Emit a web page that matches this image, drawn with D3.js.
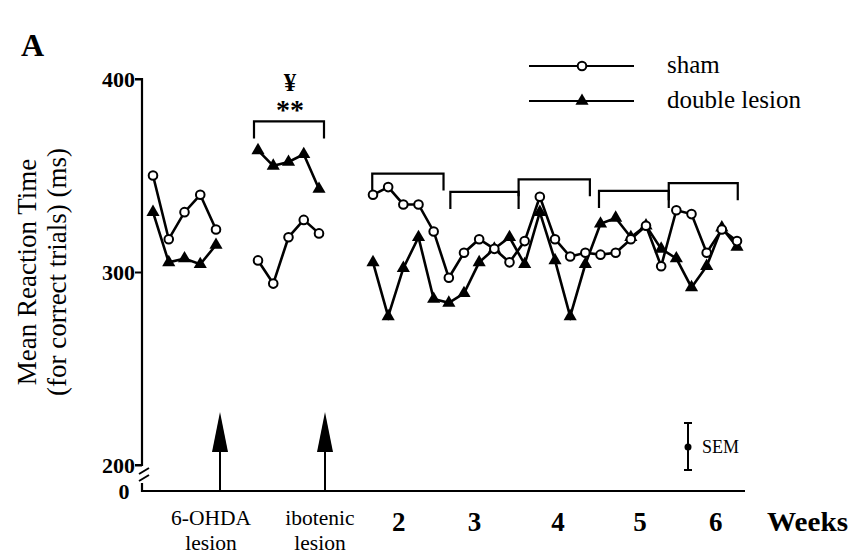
<!DOCTYPE html>
<html><head><meta charset="utf-8">
<script src="https://cdn.jsdelivr.net/npm/d3@7"></script>
<style>body{margin:0;background:#fff}svg{display:block}text{font-family:"Liberation Serif","Times New Roman",serif;fill:#000}</style>
</head><body><svg id="c" width="850" height="556"></svg>
<script>
// ---- data ----
const baseSessions = [1,2,3,4,5];
const baseSham   = [350, 317, 331, 340, 322];
const baseDouble = [331, 305, 307, 304, 314];
const lesSessions = [1,2,3,4,5];
const lesSham   = [306, 294, 318, 327, 320];
const lesDouble = [363, 355, 357, 361, 343];
const weekSessions = d3.range(1, 26);
const weekSham   = [340,344,335,335,321,297,310,317,312,305,316,339,317,308,310,309,310,317,324,303,332,330,310,322,316];
const weekDouble = [305,277,302,318,286,284,289,305,312,318,304,331,306,277,304,325,328,318,324,312,307,292,303,323,313];
const weekLabels = ["2","3","4","5","6"];
const lesionLabels = [["6-OHDA","lesion"],["ibotenic","lesion"]];
const yTicks = [200, 300, 400];
const seriesNames = ["sham", "double lesion"];
const weekBracketTop = [351, 341.5, 348, 342, 346];
const lesBracketTop = 378;

// ---- layout ----
const svg = d3.select("#c");
const y = d3.scaleLinear().domain([200, 400]).range([465, 79]);
const xBase = d3.scaleLinear().domain([1,5]).range([153, 216]);
const xLes  = d3.scaleLinear().domain([1,5]).range([258, 319]);
const xWeek = d3.scaleLinear().domain([1,25]).range([373, 737]);
const axisX = 142, zeroY = 491;

// y axis
const yAxis = d3.axisLeft(y).tickValues(yTicks).tickSize(7).tickFormat(d3.format("d"));
const ga = svg.append("g").attr("transform", `translate(${axisX},0)`).call(yAxis);
ga.select(".domain").attr("d", `M-7,${y(400)}H0V${y(200)}H-7`).attr("stroke","#000").attr("stroke-width",2.2);
ga.selectAll(".tick line").attr("stroke","#000").attr("stroke-width",2);
ga.selectAll(".tick text").attr("font-size", 22).attr("font-weight","bold").attr("x",-7)
  .style("font-family","'Liberation Serif',serif");
// break marks & lower axis
svg.append("path").attr("d", `M${axisX-3},${474}L${axisX+7},${468}M${axisX-3},${481}L${axisX+7},${475}`)
  .attr("stroke","#000").attr("stroke-width",2).attr("fill","none");
svg.append("path").attr("d", `M${axisX},${483}V${zeroY}H745`).attr("stroke","#000").attr("stroke-width",2.2).attr("fill","none");
svg.append("text").attr("x", 124).attr("y", zeroY+8).attr("text-anchor","middle")
  .attr("font-size",22).attr("font-weight","bold").text("0");

// y label
const yl = svg.append("text").attr("transform","translate(36,272) rotate(-90)").attr("text-anchor","middle").attr("font-size",27);
yl.append("tspan").attr("x",0).attr("dy",0).text("Mean Reaction Time");
yl.append("tspan").attr("x",0).attr("dy",30).text("(for correct trials) (ms)");

// panel letter
svg.append("text").attr("x",21).attr("y",56).attr("font-size",32).attr("font-weight","bold").text("A");

// series drawing
const line = (xs) => d3.line().x((d,i)=>xs[i]).y(d=>y(d));
function drawSeries(xScale, sessions, vals, type){
  const xs = sessions.map(s=>xScale(s));
  svg.append("path").attr("d", line(xs)(vals)).attr("fill","none").attr("stroke","#000").attr("stroke-width",2.6);
  if(type==="circle"){
    svg.append("g").selectAll("circle").data(vals).join("circle")
      .attr("cx",(d,i)=>xs[i]).attr("cy",d=>y(d)).attr("r",4.3)
      .attr("fill","#fff").attr("stroke","#000").attr("stroke-width",2);
  } else {
    svg.append("g").selectAll("path").data(vals).join("path")
      .attr("d", d3.symbol(d3.symbolTriangle, 75)())
      .attr("transform",(d,i)=>`translate(${xs[i]},${y(d)})`).attr("fill","#000");
  }
}
drawSeries(xBase, baseSessions, baseDouble, "tri");
drawSeries(xBase, baseSessions, baseSham, "circle");
drawSeries(xLes, lesSessions, lesDouble, "tri");
drawSeries(xLes, lesSessions, lesSham, "circle");
drawSeries(xWeek, weekSessions, weekDouble, "tri");
drawSeries(xWeek, weekSessions, weekSham, "circle");

// brackets
function bracket(x1, x2, v){
  const yt = y(v);
  svg.append("path").attr("d", `M${x1},${yt+17}V${yt}H${x2}V${yt+17}`)
    .attr("fill","none").attr("stroke","#000").attr("stroke-width",2.2);
}
bracket(254, 324, lesBracketTop);
const bracketSpans = [[0.95,5.65],[6.1,10.6],[10.6,15.3],[15.9,20.5],[20.5,25.05]];
bracketSpans.forEach((s,i)=>bracket(xWeek(s[0]), xWeek(s[1]), weekBracketTop[i]));

// significance marks
svg.append("text").attr("x",290).attr("y",119).attr("text-anchor","middle").attr("font-size",28).attr("font-weight","bold").text("**");
svg.append("text").attr("x",290).attr("y",91).attr("text-anchor","middle").attr("font-size",25).attr("font-weight","bold").text("¥");

// arrows
[220, 325].forEach(ax=>{
  svg.append("line").attr("x1",ax).attr("x2",ax).attr("y1",zeroY).attr("y2",440).attr("stroke","#000").attr("stroke-width",2);
  svg.append("path").attr("d",`M${ax},412L${ax+8},452L${ax-8},452Z`).attr("fill","#000");
});

// x labels
lesionLabels.forEach((l,i)=>{
  const cx = [211, 320][i];
  svg.append("text").attr("x",cx).attr("y",525).attr("text-anchor","middle").attr("font-size",21.5).text(l[0]);
  svg.append("text").attr("x",cx).attr("y",550).attr("text-anchor","middle").attr("font-size",21.5).text(l[1]);
});
const weekLabelPos = [2.7, 7.7, 13.2, 18.6, 23.6];
weekLabels.forEach((w,i)=>{
  svg.append("text").attr("x",xWeek(weekLabelPos[i])).attr("y",531).attr("text-anchor","middle")
    .attr("font-size",27).attr("font-weight","bold").text(w);
});
svg.append("text").attr("x",767).attr("y",531).attr("font-size",27).attr("font-weight","bold")
  .attr("textLength",81).attr("lengthAdjust","spacingAndGlyphs").text("Weeks");

// legend
seriesNames.forEach((n,i)=>{
  const ly = [66, 101][i];
  svg.append("line").attr("x1",529).attr("x2",634).attr("y1",ly).attr("y2",ly).attr("stroke","#000").attr("stroke-width",2);
  if(i===0) svg.append("circle").attr("cx",582).attr("cy",ly).attr("r",4.3).attr("fill","#fff").attr("stroke","#000").attr("stroke-width",2);
  else svg.append("path").attr("d", d3.symbol(d3.symbolTriangle, 75)()).attr("transform",`translate(582,${ly})`).attr("fill","#000");
  svg.append("text").attr("x",667).attr("y",ly+7).attr("font-size",25).text(n);
});

// SEM bar
svg.append("path").attr("d","M684,423H692M688,423V470M684,470H692").attr("stroke","#000").attr("stroke-width",2).attr("fill","none");
svg.append("circle").attr("cx",688).attr("cy",447).attr("r",3.5).attr("fill","#000");
svg.append("text").attr("x",702).attr("y",453).attr("font-size",18).text("SEM");
</script></body></html>
